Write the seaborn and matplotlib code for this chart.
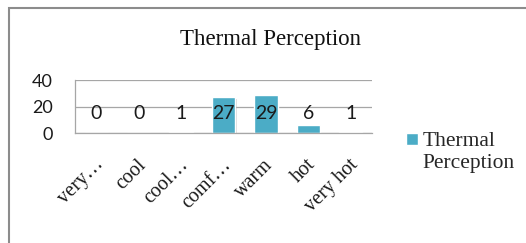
import pandas as pd
import matplotlib
matplotlib.use("Agg")
import matplotlib.pyplot as plt
import matplotlib.patches as mpatches
import matplotlib.patheffects as pe
import matplotlib.transforms as mtransforms
from matplotlib.legend_handler import HandlerPatch
import seaborn as sns

# Data
categories = ["very…", "cool", "cool…", "comf…", "warm", "hot", "very hot"]
values = [0, 0, 1, 27, 29, 6, 1]
series_name = "Thermal Perception"
y_ticks = [0, 20, 40]

df = pd.DataFrame({"category": categories, "value": values, "series": series_name})

sns.set_style("white")
bar_color = "#4BACC6"
grid_color = "#A6A6A6"
text_color = "#1A1A1A"

fig = plt.figure(figsize=(5.26, 2.43), dpi=100)
ax = fig.add_axes([75 / 526, 1 - 133.3 / 243, 297 / 526, 53.3 / 243])

sns.barplot(data=df, x="category", y="value", hue="series", palette=[bar_color],
            width=0.55, ax=ax, saturation=1, legend=True)

# soft shadow like the office chart
for bar in ax.patches:
    bar.set_path_effects([pe.SimplePatchShadow(offset=(1, -1), shadow_rgbFace="#999999", alpha=0.35),
                          pe.Normal()])

ax.set_ylim(0, 40)
ax.set_xlim(-0.5, len(categories) - 0.5)
ax.set_yticks(y_ticks)
ax.set_yticklabels([str(t) for t in y_ticks], fontsize=13, family="Lato", color=text_color)
ax.yaxis.grid(True, color=grid_color, linewidth=0.9)
ax.set_axisbelow(True)
ax.set_xlabel("")
ax.set_ylabel("")
ax.tick_params(axis="y", length=0, pad=16)
ax.tick_params(axis="x", length=0, pad=0)

for side in ["top", "right"]:
    ax.spines[side].set_visible(False)
for side in ["left", "bottom"]:
    ax.spines[side].set_color(grid_color)
    ax.spines[side].set_linewidth(0.9)

# x labels rotated, top-right corner just below and right of the tick
offset = mtransforms.ScaledTranslation(-2 / 100, -22 / 100, fig.dpi_scale_trans)
ax.set_xticks(range(len(categories)))
ax.set_xticklabels(categories, rotation=45, ha="right", rotation_mode="anchor",
                   fontsize=14.5, family="Liberation Serif", color=text_color)
for lbl in ax.get_xticklabels():
    lbl.set_transform(lbl.get_transform() + offset)

# data labels sit at a fixed height
for i, v in enumerate(values):
    ax.text(i, 14.5, str(v), ha="center", va="center", fontsize=14,
            family="Lato", color=text_color)


# legend square aligned with the first text line
def top_square(legend, orig_handle, xdescent, ydescent, width, height, fontsize):
    side = width
    return mpatches.Rectangle((-xdescent, -ydescent + height - side * 0.75), side, side)


handles, _ = ax.get_legend_handles_labels()
ax.legend(handles, ["Thermal\nPerception"], loc="upper left",
          bbox_to_anchor=(406 / 526, 1 - 132 / 243), bbox_transform=fig.transFigure,
          frameon=False, prop={"family": "Liberation Serif", "size": 15.5},
          handlelength=0.56, handleheight=2.0, handletextpad=0.2, borderaxespad=0,
          borderpad=0, handler_map={mpatches.Rectangle: HandlerPatch(patch_func=top_square)})

# title
fig.text(271 / 526, 1 - 40 / 243, "Thermal Perception", ha="center", va="center",
         fontsize=16.5, family="Liberation Serif", color="#111111")

# outer chart frame
frame = mpatches.Rectangle((9 / 526, -0.1), 1.2, 1 - 8 / 243 + 0.1, transform=fig.transFigure,
                           fill=False, edgecolor="#8C8C8C", linewidth=1.5)
fig.patches.append(frame)

fig.savefig("out.png", dpi=100)
